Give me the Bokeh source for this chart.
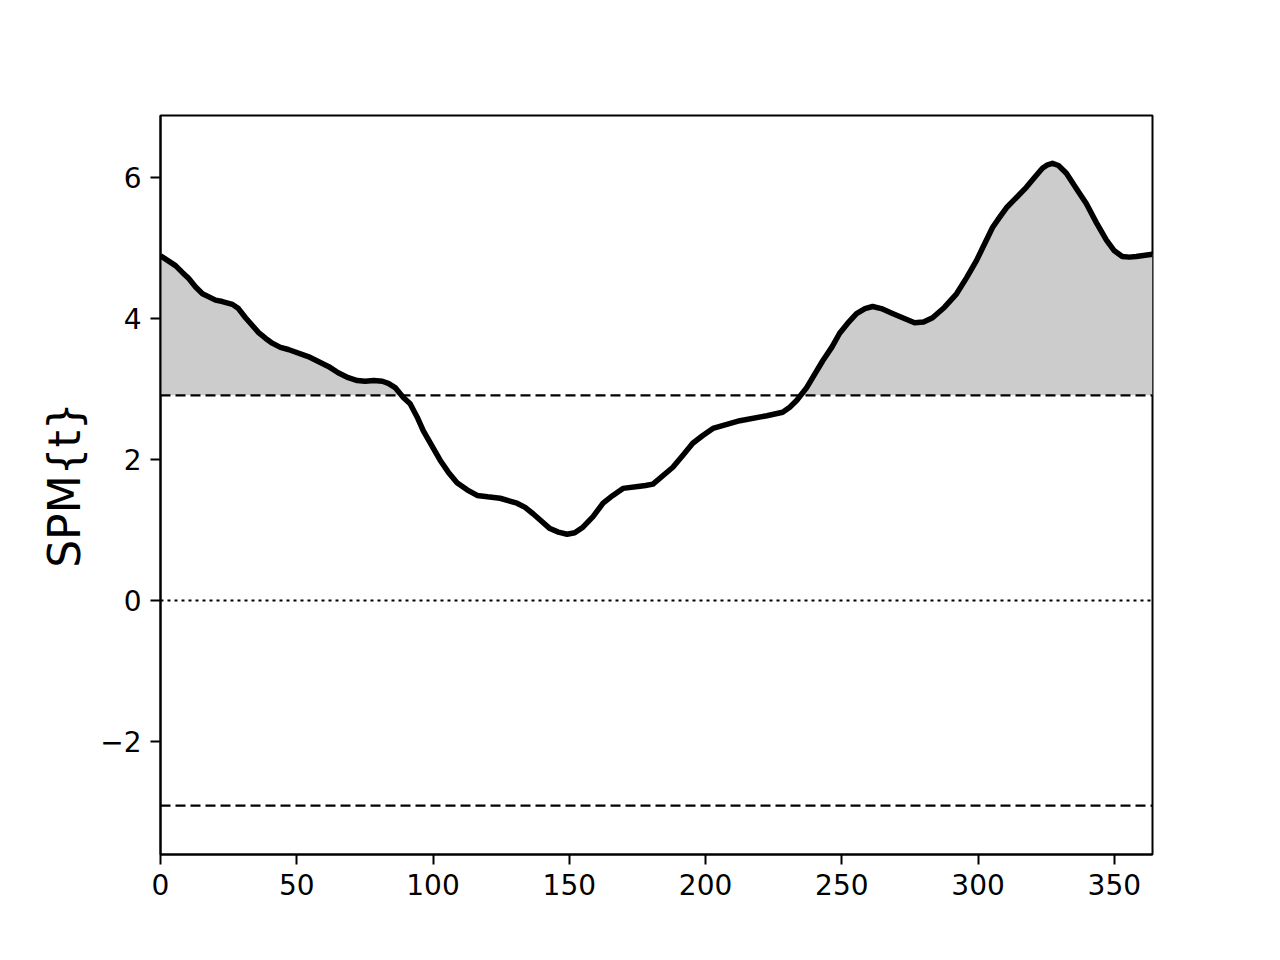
import numpy as np
from bokeh.plotting import figure
from bokeh.models import Span, Range1d, FixedTicker, ColumnDataSource
from bokeh.embed import file_html
from bokeh.resources import INLINE

# SPM{t} trajectory
node = [0, 5.5, 8.1, 10.3, 12.8, 15.4, 20.2, 22.7, 26.4, 28.6, 31.2, 36.0, 38.5, 41.0, 44.0,
        46.9, 54.2, 61.6, 65.2, 68.9, 72.2, 75.1, 78.3, 81.4, 83.6, 86.1, 89.1, 91.6, 94.2,
        96.4, 102.6, 105.6, 108.8, 112.5, 116.2, 120.0, 124.6, 130.8, 133.8,
        136.7, 142.9, 146.0, 149.2, 152.0, 155.0, 158.7, 162.4, 166.0, 169.7, 175.9, 178.0,
        180.7, 188.0, 191.7, 195.3, 199.0, 202.7, 212.6, 222.5, 228.3, 230.9, 233.5, 237.1,
        243.0, 246.3, 249.2, 252.1, 255.4, 258.5, 261.3, 264.5, 268.6, 272.3, 276.7, 280.0,
        283.3, 287.7, 292.1, 295.8, 299.4, 302.4, 305.3, 307.8, 310.4, 317.7, 320.7, 323.6,
        325.5, 327.3, 329.5, 332.4, 336.1, 339.7, 343.4, 347.1, 350.0, 352.9, 355.5, 358.0,
        364.0]
spm_t = [4.89, 4.75, 4.65, 4.57, 4.45, 4.35, 4.26, 4.24, 4.20, 4.14, 4.01, 3.80, 3.72, 3.65, 3.59,
         3.56, 3.46, 3.32, 3.23, 3.16, 3.12, 3.11, 3.12, 3.11, 3.08, 3.02, 2.88, 2.79, 2.60,
         2.41, 1.99, 1.82, 1.67, 1.57, 1.49, 1.47, 1.45, 1.38, 1.32,
         1.23, 1.02, 0.97, 0.94, 0.96, 1.04, 1.19, 1.38, 1.49, 1.59, 1.62, 1.63,
         1.65, 1.89, 2.06, 2.23, 2.34, 2.44, 2.55, 2.62, 2.67, 2.74, 2.84, 3.02,
         3.40, 3.59, 3.79, 3.93, 4.07, 4.14, 4.17, 4.14, 4.07, 4.01, 3.94, 3.95,
         4.01, 4.16, 4.35, 4.58, 4.82, 5.06, 5.29, 5.43, 5.57, 5.86, 6.00, 6.13,
         6.18, 6.20, 6.17, 6.06, 5.84, 5.63, 5.36, 5.11, 4.96, 4.88, 4.87, 4.88,
         4.91]
threshold = 2.91
x_ticks = [0, 50, 100, 150, 200, 250, 300, 350]
y_ticks = [-2, 0, 2, 4, 6]
y_label = "SPM{t}"

W, H = 1264, 944
p = figure(width=W, height=H, output_backend="svg", toolbar_location=None,
           x_range=Range1d(0, 364), y_range=Range1d(-3.603, 6.879),
           min_border_left=160, min_border_right=112,
           min_border_top=115, min_border_bottom=90)
p.grid.visible = False
p.background_fill_color = "white"
p.border_fill_color = "white"
p.outline_line_color = "black"
p.outline_line_width = 2

upper = np.maximum(np.array(spm_t), threshold)
src = ColumnDataSource(dict(x=node, y=spm_t, lo=[threshold] * len(node), up=upper))
p.varea(x="x", y1="lo", y2="up", source=src, fill_color="#cccccc")

for v, dash in [(threshold, "10 5"), (-threshold, "10 5"), (0, "3 4")]:
    p.add_layout(Span(location=v, dimension="width", line_color="black",
                      line_width=2.2, line_dash=dash))

p.line("x", "y", source=src, line_color="black", line_width=5.5, line_join="round")

for ax in (p.xaxis[0], p.yaxis[0]):
    ax.axis_line_color = "black"
    ax.axis_line_width = 2
    ax.major_tick_line_color = "black"
    ax.major_tick_line_width = 2
    ax.major_tick_out = 10
    ax.major_tick_in = 0
    ax.minor_tick_line_color = None
    ax.major_label_text_font = "DejaVu Sans"
    ax.major_label_text_font_size = "28px"
    ax.major_label_text_color = "black"
    ax.major_label_standoff = 9

p.xaxis.ticker = FixedTicker(ticks=x_ticks)
p.yaxis.ticker = FixedTicker(ticks=y_ticks)
p.yaxis.major_label_overrides = {t: (str(t).replace("-", "\u2212")) for t in y_ticks}
p.xaxis.major_label_overrides = {t: str(t) for t in x_ticks}

p.yaxis.axis_label = y_label
p.yaxis.axis_label_text_font = "DejaVu Sans"
p.yaxis.axis_label_text_font_size = "44px"
p.yaxis.axis_label_text_font_style = "normal"
p.yaxis.axis_label_text_color = "black"
p.yaxis.axis_label_standoff = 7

open("out.html", "w").write(file_html(p, INLINE))
